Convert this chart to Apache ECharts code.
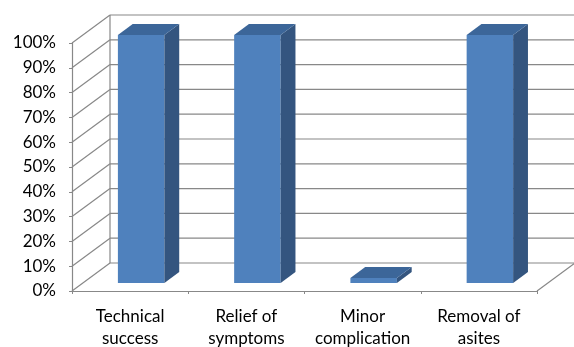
<!DOCTYPE html>
<html>
<head>
<meta charset="utf-8">
<script src="https://cdn.jsdelivr.net/npm/echarts@6/dist/echarts.min.js"></script>
<style>
  html, body { margin: 0; padding: 0; background: #fff; }
  #chart { width: 574px; height: 347px; }
</style>
</head>
<body>
<div id="chart"></div>
<script>
// data
const categories = ['Technical\nsuccess', 'Relief of\nsymptoms', 'Minor\ncomplication', 'Removal of\nasites'];
const values = [100, 100, 2, 100];
const yTickValues = [0, 10, 20, 30, 40, 50, 60, 70, 80, 90, 100];

// fake 3d depth of the plot box (px)
const DEPTH_X = 38;
const DEPTH_Y = -28;
const BAR_FRONT = 0.29;   // where the bar front sits in the depth
const BAR_DEPTH = 0.39;   // bar depth as part of the box depth
const BAR_WIDTH = 0.4;    // part of the category band

const lineColor = '#888888';

const chart = echarts.init(document.getElementById('chart'));

// back wall, left wall and floor lines
const renderWall = (params, api) => {
  const cs = params.coordSys;
  const v = api.value(1);
  const y = api.coord([0, v])[1];
  const x0 = cs.x;
  const style = { stroke: lineColor, lineWidth: 1.2, fill: null };
  const children = [
    { type: 'line', shape: { x1: x0, y1: y, x2: x0 + DEPTH_X, y2: y + DEPTH_Y }, style },
    { type: 'line', shape: { x1: x0 + DEPTH_X, y1: y + DEPTH_Y, x2: x0 + cs.width + DEPTH_X, y2: y + DEPTH_Y }, style }
  ];
  if (v === 0) {
    const yTop = api.coord([0, yTickValues[yTickValues.length - 1]])[1];
    children.push({ type: 'line', shape: { x1: x0 + cs.width, y1: y, x2: x0 + cs.width + DEPTH_X, y2: y + DEPTH_Y }, style });
    children.push({ type: 'line', shape: { x1: x0 + DEPTH_X, y1: y + DEPTH_Y, x2: x0 + DEPTH_X, y2: yTop + DEPTH_Y }, style });
  }
  return { type: 'group', children };
};

// 3d looking bar: front, right side, top
const renderBar = (params, api) => {
  const i = api.value(0);
  const v = api.value(1);
  const base = api.coord([i, 0]);
  const top = api.coord([i, v]);
  const band = api.size([1, 0])[0];
  const w = band * BAR_WIDTH;
  const fx = DEPTH_X * BAR_FRONT;
  const fy = DEPTH_Y * BAR_FRONT;
  const ddx = DEPTH_X * BAR_DEPTH;
  const ddy = DEPTH_Y * BAR_DEPTH;
  const l = base[0] - w / 2 + fx;
  const r = l + w;
  const b = base[1] + fy;
  const t = top[1] + fy;
  return {
    type: 'group',
    children: [
      { type: 'rect', shape: { x: l, y: t, width: w, height: b - t }, style: { fill: '#4f81bd' } },
      { type: 'polygon', shape: { points: [[r, t], [r + ddx, t + ddy], [r + ddx, b + ddy], [r, b]] }, style: { fill: '#34557f' } },
      { type: 'polygon', shape: { points: [[l, t], [l + ddx, t + ddy], [r + ddx, t + ddy], [r, t]] }, style: { fill: '#3c6699' } }
    ]
  };
};

chart.setOption({
  animation: false,
  grid: { left: 72, right: 37, top: 43, bottom: 56, outerBoundsMode: 'none' },
  xAxis: {
    type: 'category',
    data: categories,
    axisLine: { show: true, lineStyle: { color: lineColor, width: 1.2 } },
    axisTick: { show: true, length: 3, lineStyle: { color: lineColor } },
    axisLabel: {
      color: '#000',
      fontFamily: 'Lato',
      fontSize: 17,
      lineHeight: 22,
      margin: 15,
      interval: 0
    }
  },
  yAxis: {
    type: 'value',
    min: 0,
    max: 100,
    interval: 10,
    axisLine: { show: true, lineStyle: { color: lineColor, width: 1.2 } },
    axisTick: { show: true, length: 3, lineStyle: { color: lineColor } },
    splitLine: { show: false },
    axisLabel: {
      color: '#000',
      fontFamily: 'Lato',
      fontSize: 17,
      margin: 16,
      padding: [3, 0, 0, 0],
      formatter: '{value}%'
    }
  },
  series: [
    {
      type: 'custom',
      name: 'wall',
      clip: false,
      silent: true,
      z: 1,
      renderItem: renderWall,
      data: yTickValues.map(v => [0, v])
    },
    {
      type: 'custom',
      name: 'bars',
      clip: false,
      z: 5,
      renderItem: renderBar,
      data: values.map((v, i) => [i, v])
    }
  ]
});
</script>
</body>
</html>
